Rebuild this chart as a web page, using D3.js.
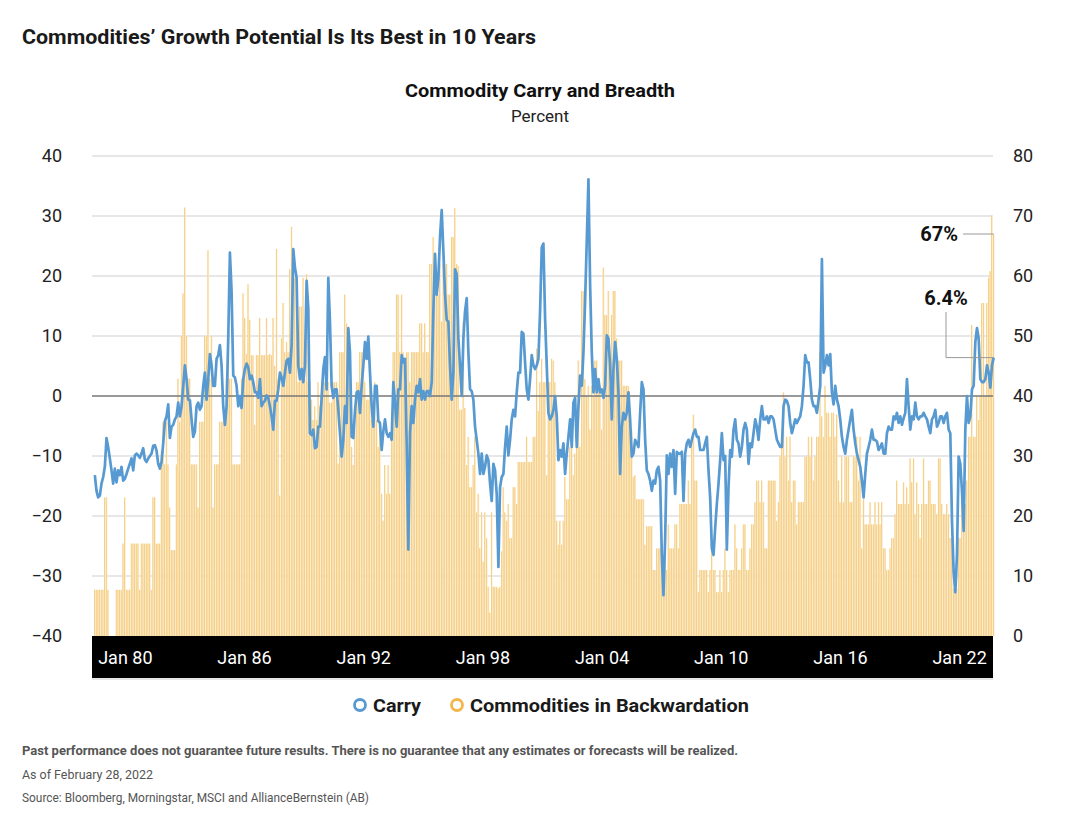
<!DOCTYPE html>
<html>
<head>
<meta charset="utf-8">
<script src="https://cdnjs.cloudflare.com/ajax/libs/d3/7.8.5/d3.min.js"></script>
<style>
  body { margin: 0; background: #fff; }
  svg { display: block; font-family: Roboto, "Liberation Sans", sans-serif; }
</style>
</head>
<body>
<svg id="chart" width="1078" height="830"></svg>
<script>
// monthly carry (percent, left axis)
var carry = [
  -13.2,-15.8,-16.9,-16.6,-14.6,-13.5,-11.8,-7.0,-8.5,-10.4,
  -12.4,-14.6,-12.1,-14.4,-12.4,-13.2,-11.8,-14.1,-13.8,-13.0,
  -12.1,-11.3,-10.4,-12.4,-9.9,-9.6,-9.9,-10.3,-9.6,-8.7,
  -10.6,-11.0,-10.4,-10.0,-9.6,-8.3,-8.2,-9.1,-11.3,-12.1,
  -11.0,-7.9,-4.2,-3.4,-1.4,-7.0,-5.1,-4.8,-3.9,-3.4,
  -1.1,-3.4,-1.7,1.7,5.1,2.8,-0.6,-0.7,-3.9,-6.8,
  -5.9,-1.7,-1.1,-2.3,-1.7,1.7,3.9,-0.6,2.8,7.0,
  5.1,1.7,1.7,6.2,6.8,8.5,5.1,-1.7,-4.8,-1.7,
  9.6,23.9,17.5,3.4,3.1,1.7,-1.7,0.0,-2.0,2.8,
  4.5,5.4,4.8,2.8,3.4,2.3,0.6,0.6,-0.3,2.8,
  -1.7,-1.1,-0.8,0.1,-0.3,-1.7,-3.4,-5.6,-0.8,-0.8,
  1.1,3.9,3.1,1.7,3.9,5.9,6.2,3.9,8.5,24.5,
  21.4,19.7,5.1,2.8,4.5,2.3,5.1,19.2,14.6,-6.2,
  -6.5,-5.6,-8.7,-8.5,-5.1,-5.1,-0.3,4.5,6.5,1.1,
  19.7,12.4,1.7,-0.3,1.1,1.1,-2.3,-6.2,-10.1,-7.3,
  -1.7,-4.5,11.3,7.3,-6.8,-7.0,-2.5,0.6,0.8,-2.8,
  1.7,5.1,9.0,6.2,9.9,3.9,-1.7,-5.1,1.7,1.7,
  -4.2,-4.5,-9.0,-5.9,-3.9,-6.2,-6.8,-6.2,-7.3,2.3,
  -1.1,-5.1,1.1,1.1,6.8,5.6,6.2,-8.0,-25.6,-6.2,
  -1.7,-4.5,-0.6,1.7,0.6,2.8,-0.6,0.8,-0.6,0.8,
  0.8,0.0,2.3,14.1,23.7,16.9,19.7,26.5,31.0,24.2,
  16.9,12.7,12.4,5.1,-0.6,3.9,21.1,20.3,9.6,5.1,
  0.0,9.6,14.1,16.3,7.3,1.1,0.8,-0.6,-5.1,-7.3,
  -9.6,-13.0,-9.6,-13.0,-11.8,-9.9,-10.7,-14.6,-17.5,-11.3,
  -12.4,-16.3,-28.5,-15.2,-13.5,-13.0,-8.5,-5.1,-9.9,-7.3,
  -3.9,-2.3,-3.4,0.6,3.9,3.9,10.7,10.4,5.6,1.1,
  -0.6,2.8,6.8,5.1,4.5,5.1,6.2,14.1,24.8,25.4,
  13.0,5.1,-2.8,-3.9,-3.4,-2.3,0.0,-3.4,-10.7,-9.0,
  -10.1,-7.9,-13.0,-9.6,-6.8,-3.9,-8.5,-1.1,-0.3,-8.5,
  -1.7,3.4,1.7,7.3,15.8,25.9,36.1,18.6,7.3,0.6,
  4.5,0.6,2.8,0.6,1.1,-0.3,1.7,10.1,9.6,5.1,
  -3.9,4.5,9.0,6.2,0.6,-13.0,-5.1,-2.8,-3.9,-2.8,
  0.6,-3.9,-10.1,-9.6,-7.3,-7.9,-8.5,-2.8,2.3,1.1,
  -7.3,-12.4,-13.0,-14.1,-15.8,-14.1,-14.6,-12.4,-11.8,-14.1,
  -26.5,-33.2,-23.7,-9.9,-13.0,-9.6,-11.8,-9.0,-16.3,-9.3,
  -9.6,-9.6,-9.3,-17.5,-9.6,-7.9,-7.3,-8.5,-7.3,-6.2,
  -5.6,-6.8,-6.8,-9.0,-9.0,-9.0,-7.9,-6.8,-12.4,-16.9,
  -25.4,-26.5,-22.0,-18.0,-14.6,-10.7,-6.2,-10.7,-10.0,-25.6,
  -15.2,-9.0,-10.1,-5.6,-3.9,-7.3,-7.9,-10.1,-8.5,-5.6,
  -4.5,-5.6,-11.3,-7.9,-8.5,-6.2,-3.9,-5.1,-7.3,-3.9,
  -1.7,-3.9,-3.9,-3.4,-4.5,-3.4,-3.4,-3.9,-5.6,-7.3,
  -7.9,-8.5,-8.5,-1.7,-0.6,-0.8,-1.7,-4.5,-6.2,-5.1,
  -3.9,-4.5,-3.9,-3.4,-1.7,1.7,6.8,5.6,5.6,2.8,
  -0.6,-1.7,-1.7,-2.8,-0.6,1.7,22.8,3.9,5.1,6.8,
  5.1,7.0,0.6,-1.4,1.7,-0.6,-1.7,-3.9,-6.8,-8.5,
  -9.6,-7.3,-5.6,-3.9,-2.3,-5.6,-7.9,-9.6,-10.7,-11.8,
  -14.1,-16.9,-13.0,-9.6,-8.5,-7.3,-5.6,-7.3,-7.3,-7.6,
  -9.0,-8.5,-7.9,-9.6,-9.6,-6.2,-5.1,-5.6,-5.6,-3.4,
  -3.9,-2.8,-4.5,-3.4,-4.8,-3.7,-2.8,2.8,-1.7,-5.6,
  -3.4,-3.9,-1.1,-3.4,-3.9,-3.4,-3.4,-2.8,-3.4,-3.9,
  -5.1,-6.2,-3.9,-3.4,-2.3,-5.1,-4.5,-3.4,-3.4,-4.5,
  -3.4,-2.8,-5.6,-6.2,-20.8,-29.3,-32.7,-26.5,-10.1,-11.3,
  -15.8,-22.5,-5.6,0.0,-4.5,-3.4,1.1,1.7,9.0,11.3,
  9.6,2.8,2.3,2.3,2.8,5.1,3.9,1.4,5.1,6.4
];

// monthly share of commodities in backwardation (percent, right axis)
var backwardation = [
  7.7,7.7,7.7,7.7,7.7,7.7,23.1,23.1,7.7,0,
  0,0,0,7.7,7.7,7.7,7.7,15.4,23.1,7.7,
  7.7,7.7,15.4,15.4,15.4,15.4,15.4,7.7,15.4,15.4,
  15.4,15.4,15.4,15.4,7.7,23.1,23.1,15.4,15.4,15.4,
  30.8,35.7,28.6,35.7,28.6,21.4,14.3,14.3,14.3,28.6,
  42.9,35.7,50,57.1,71.4,50,42.9,42.9,28.6,28.6,
  28.6,28.6,21.4,35.7,35.7,35.7,50,50,64.3,42.9,
  50,21.4,28.6,28.6,28.6,35.7,35.7,35.7,35.7,42.9,
  50,42.9,42.9,28.6,28.6,28.6,28.6,28.6,42.9,57.1,
  53,47,58.6,52.7,46.8,46.8,35.2,46.8,46.8,53,
  46.8,46.8,46.8,53,46.8,47,46.8,53,45,64.5,
  42.8,23.4,49.6,55.5,47.3,49,47.3,61.1,68.2,64.2,
  59.7,53,42.3,54.9,54.9,59.7,42.8,60.3,42.3,42.3,
  39.4,36,38.3,36,42.3,38.3,42.3,42.3,42.3,42.3,
  42.3,38.9,38.9,42.3,42.3,42.3,28.7,47.3,47.3,47.3,
  56.9,52.1,47.3,42.3,31.5,28.5,34.4,42.3,42.3,47.3,
  47.3,47.3,42.3,39.4,39.4,42.3,36,36,42.3,36,
  31.5,36,23.7,19.2,28.5,23.7,28.5,23.7,33.2,47.3,
  47.3,56.9,56.9,47.3,56.9,47.3,41.7,47.3,47.3,42.3,
  47.3,47.3,47.3,47.3,47.3,52.1,52.1,47.3,52.1,47.3,
  47.3,62,62,66.5,61.7,56.9,56.9,62,52.4,62,
  62,62,56.9,56.9,66.5,66.5,71.3,62,61.7,37.7,
  37.7,52.4,38,28.5,33.2,24.8,24.8,28.5,33.2,20.6,
  23.7,14.6,20.6,12.4,20.6,16.3,8.2,3.9,20.6,8.2,
  8.2,8.2,7.9,8.2,14.1,24.8,20.6,19.2,22,16.3,
  16.3,24.8,24.8,22,29,29,29,29,29,33.2,
  29,29,29,33.2,33.2,47.9,37.5,42.3,46.2,42.3,
  42.3,26.8,42.3,42.3,46.2,45.9,42.3,19.2,15.2,19.2,
  15.2,19.2,26.5,22.8,22.8,31.5,31.5,26.8,30.4,31.5,
  45.9,31.5,57.5,57.5,42.8,40,41.7,34.4,41.7,40,
  45.9,45.9,41.7,41.7,34.4,61.4,53.5,53.5,57.5,41.7,
  53.5,57.5,57.5,49.6,45.9,45.9,45.9,41.7,41.7,41.7,
  41.7,34.4,34.4,26.5,26.8,22.8,22.8,22.8,22.8,22.8,
  15.2,18.3,18.3,18.3,18.3,11,11,14.6,14.6,14.6,
  14.6,11,18.6,11,18.6,14.6,14.6,14.6,18.6,18.6,
  14.6,22,22,22,22,22,25.9,22,33.2,36.9,
  25.9,25.9,7.3,11,11,11,11,11,7.3,11,
  14.6,11,11,7.3,7.3,11,7.3,11,14.6,11,
  7.3,11,11,11,18.6,14.6,11,11,14.6,18.6,
  18.6,11,11,14.6,18.6,18.6,22.3,25.9,25.9,22.3,
  25.9,22.3,14.6,14.6,25.9,25.9,25.9,25.9,25.9,19.2,
  22.3,29.9,33.2,40.6,29.9,33.2,25.9,33.2,22.3,25.9,
  25.9,18.6,22.3,22.3,22.3,22.3,29.9,29.9,33.2,29.9,
  33.2,25.9,29.9,33.2,33.2,47.3,36.6,33.2,41.7,37.2,
  37.2,33.2,37.2,37.2,33.2,36.9,25.9,22.3,29.9,22.3,
  29.9,29.9,29.9,22.3,22.3,29.9,29.9,33.2,25.9,33.2,
  14.6,22.8,18.6,18.6,18.6,22.3,18.6,18.6,22.3,18.6,
  22.3,18.6,22.3,14.6,14.6,11,11,14.6,16.3,16.3,
  20.3,25.9,22,22,22,25.6,22,24.8,22,29.6,
  25.6,29.6,20.3,25.6,22,16.3,22,29.6,22,22,
  25.9,25.9,22,22,22,20.3,29.6,29.6,22,20.3,
  20.3,22,20.3,16.3,16.3,7.9,7.9,7.9,16.3,16.3,
  22,20.3,22,25.9,33.2,33.2,51.8,33.2,33.2,40,
  36,40,55.5,55.5,40,55.5,59.7,60.8,70.1,67
];

var tickLabels = ["Jan 80", "Jan 86", "Jan 92", "Jan 98", "Jan 04", "Jan 10", "Jan 16", "Jan 22"];
var leftTicks = [-40, -30, -20, -10, 0, 10, 20, 30, 40];
var rightTicks = [0, 10, 20, 30, 40, 50, 60, 70, 80];
var legendItems = ["Carry", "Commodities in Backwardation"];

var blue = "#5799d1", orange = "#f2b64a";
var plotL = 92, plotR = 993, plotT = 156, plotB = 636;

var svg = d3.select("#chart");

var x = d3.scaleBand()
    .domain(d3.range(carry.length))
    .range([94, 994.5])
    .padding(0);
var yL = d3.scaleLinear().domain([-40, 40]).range([plotB, plotT]);
var yR = d3.scaleLinear().domain([0, 80]).range([plotB, plotT]);
var xLab = d3.scalePoint().domain(tickLabels).range([plotL, plotR]).padding(0.28);

// titles
svg.append("text")
    .attr("x", 22).attr("y", 44)
    .attr("font-size", 21).attr("font-weight", 700).attr("fill", "#1a1a1a")
    .attr("textLength", 514).attr("lengthAdjust", "spacingAndGlyphs")
    .text("Commodities’ Growth Potential Is Its Best in 10 Years");

svg.append("text")
    .attr("x", 540).attr("y", 97).attr("text-anchor", "middle")
    .attr("font-size", 18).attr("font-weight", 700).attr("fill", "#111")
    .attr("textLength", 270).attr("lengthAdjust", "spacingAndGlyphs")
    .text("Commodity Carry and Breadth");

svg.append("text")
    .attr("x", 540).attr("y", 122).attr("text-anchor", "middle")
    .attr("font-size", 17).attr("fill", "#222")
    .text("Percent");

// grid
svg.append("g")
    .selectAll("line")
    .data(leftTicks.filter(function(d) { return d !== 0 && d !== -40; }))
    .enter().append("line")
    .attr("x1", plotL).attr("x2", plotR)
    .attr("y1", function(d) { return yL(d); })
    .attr("y2", function(d) { return yL(d); })
    .attr("stroke", "#d0d0d0").attr("stroke-width", 1.2);

// bars: pale body with a thin orange edge
var bw = x.bandwidth();
var bars = svg.append("g").attr("class", "bars");

bars.selectAll("rect.body")
    .data(backwardation)
    .enter().append("rect")
    .attr("class", "body")
    .attr("x", function(d, i) { return x(i); })
    .attr("width", bw)
    .attr("y", function(d) { return yR(d); })
    .attr("height", function(d) { return yR(0) - yR(d); })
    .attr("fill", "#fcebcb");

bars.selectAll("rect.edge")
    .data(backwardation)
    .enter().append("rect")
    .attr("class", "edge")
    .attr("x", function(d, i) { return x(i) + 0.2; })
    .attr("width", 0.65)
    .attr("y", function(d) { return yR(d); })
    .attr("height", function(d) { return yR(0) - yR(d); })
    .attr("fill", "#f2c266");

// zero line
svg.append("line")
    .attr("x1", plotL).attr("x2", plotR)
    .attr("y1", yL(0)).attr("y2", yL(0))
    .attr("stroke", "#777").attr("stroke-width", 1.3);

// carry line
var line = d3.line()
    .x(function(d, i) { return x(i) + bw / 2; })
    .y(function(d) { return yL(d); });

svg.append("path")
    .datum(carry)
    .attr("d", line)
    .attr("fill", "none")
    .attr("stroke", blue)
    .attr("stroke-width", 2.7)
    .attr("stroke-linejoin", "round");

// left / right axis labels
var axL = d3.axisLeft(yL).tickValues(leftTicks).tickSize(0).tickPadding(0)
    .tickFormat(function(d) { return d < 0 ? "\u2212" + Math.abs(d) : d; });
var gL = svg.append("g").attr("transform", "translate(62,0)").call(axL);
var axR = d3.axisRight(yR).tickValues(rightTicks).tickSize(0).tickPadding(0);
var gR = svg.append("g").attr("transform", "translate(1013,0)").call(axR);
[gL, gR].forEach(function(g) {
    g.select(".domain").remove();
    g.selectAll("text")
        .attr("font-size", 18)
        .attr("fill", "#222")
        .attr("font-family", "Roboto, sans-serif");
});

// black date band
svg.append("rect")
    .attr("x", plotL).attr("y", plotB)
    .attr("width", plotR - plotL).attr("height", 42)
    .attr("fill", "#000");
svg.append("line")
    .attr("x1", plotL).attr("x2", plotR)
    .attr("y1", plotB + 43).attr("y2", plotB + 43)
    .attr("stroke", "#ccc");

svg.append("g")
    .selectAll("text")
    .data(tickLabels)
    .enter().append("text")
    .attr("x", function(d) { return xLab(d); })
    .attr("y", plotB + 28)
    .attr("text-anchor", "middle")
    .attr("font-size", 18)
    .attr("fill", "#fff")
    .text(function(d) { return d; });

// annotations for the latest values
var last = carry.length - 1;
var lastX = x(last) + bw / 2;

svg.append("line")
    .attr("x1", 963).attr("x2", lastX)
    .attr("y1", yR(backwardation[last])).attr("y2", yR(backwardation[last]))
    .attr("stroke", "#999").attr("stroke-width", 1);
svg.append("text")
    .attr("x", 958).attr("y", yR(backwardation[last]) + 7)
    .attr("text-anchor", "end")
    .attr("font-size", 20).attr("font-weight", 700).attr("fill", "#111")
    .text(Math.round(backwardation[last]) + "%");

svg.append("path")
    .attr("d", "M946," + 312 + "V" + yL(carry[last]) + "H" + lastX)
    .attr("fill", "none")
    .attr("stroke", "#999").attr("stroke-width", 1);
svg.append("text")
    .attr("x", 946).attr("y", 305)
    .attr("text-anchor", "middle")
    .attr("font-size", 20).attr("font-weight", 700).attr("fill", "#111")
    .text(carry[last].toFixed(1) + "%");

// legend
var lg = svg.append("g").attr("transform", "translate(0,705)");
var legendX = [360, 457];
var legendW = [48, 279];
var legendCol = [blue, orange];
legendItems.forEach(function(name, k) {
    lg.append("circle")
        .attr("cx", legendX[k]).attr("cy", 0).attr("r", 5.5)
        .attr("fill", "none").attr("stroke", legendCol[k]).attr("stroke-width", 2.8);
    lg.append("text")
        .attr("x", legendX[k] + 13).attr("y", 7)
        .attr("font-size", 19).attr("font-weight", 700).attr("fill", "#1a1a1a")
        .attr("textLength", legendW[k]).attr("lengthAdjust", "spacingAndGlyphs")
        .text(name);
});

// footnotes
var notes = [
    {t: "Past performance does not guarantee future results. There is no guarantee that any estimates or forecasts will be realized.", y: 755, b: true, w: 716},
    {t: "As of February 28, 2022", y: 779, b: false, w: 131},
    {t: "Source: Bloomberg, Morningstar, MSCI and AllianceBernstein (AB)", y: 802, b: false, w: 347}
];
svg.append("g")
    .selectAll("text")
    .data(notes)
    .enter().append("text")
    .attr("x", 22)
    .attr("y", function(d) { return d.y; })
    .attr("font-size", 13)
    .attr("font-weight", function(d) { return d.b ? 700 : 400; })
    .attr("fill", "#555")
    .attr("textLength", function(d) { return d.w; })
    .attr("lengthAdjust", "spacingAndGlyphs")
    .text(function(d) { return d.t; });
</script>
</body>
</html>
